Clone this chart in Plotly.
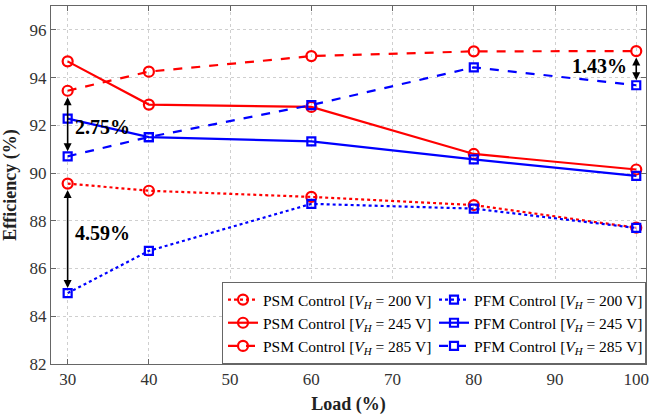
import plotly.graph_objects as go

# Converter efficiency vs. load for PSM and PFM control at three input voltages
load = [30, 40, 60, 80, 100]

psm_200 = [89.56, 89.26, 89.00, 88.66, 87.71]
pfm_200 = [84.97, 86.74, 88.71, 88.51, 87.70]
psm_245 = [94.68, 92.87, 92.77, 90.80, 90.15]
pfm_245 = [92.28, 91.51, 91.33, 90.57, 89.88]
psm_285 = [93.45, 94.25, 94.90, 95.10, 95.11]
pfm_285 = [90.70, 91.51, 92.85, 94.43, 93.68]

x_ticks = [30, 40, 50, 60, 70, 80, 90, 100]
y_ticks = [82, 84, 86, 88, 90, 92, 94, 96]

SERIF = "Liberation Serif"
RED = "#ff0000"
BLUE = "#0000ff"

series = [
    ("PSM", "200", psm_200, RED, "dot", "circle-open"),
    ("PFM", "200", pfm_200, BLUE, "dot", "square-open"),
    ("PSM", "245", psm_245, RED, "solid", "circle-open"),
    ("PFM", "245", pfm_245, BLUE, "solid", "square-open"),
    ("PSM", "285", psm_285, RED, "dash", "circle-open"),
    ("PFM", "285", pfm_285, BLUE, "dash", "square-open"),
]

fig = go.Figure()
for mode, vh, vals, color, dash, symbol in series:
    fig.add_trace(go.Scatter(
        x=load, y=vals, mode="lines+markers",
        name=f"{mode} Control [<i>V</i><sub><i>H</i></sub> = {vh} V]",
        line=dict(color=color, width=2.2, dash=dash),
        marker=dict(symbol=symbol, size=10 if symbol.startswith("circle") else 8,
                    color=color, line=dict(width=2.2, color=color)),
    ))

# Efficiency gaps between PSM and PFM control
gaps = [
    (30, psm_200[0], pfm_200[0], 30.65, 87.5, "left"),
    (30, psm_285[0], pfm_285[0], 30.65, 91.92, "left"),
    (100, psm_285[-1], pfm_285[-1], 99.15, 94.5, "right"),
]
for x, top, bottom, tx, ty, anchor in gaps:
    fig.add_annotation(
        x=x, y=bottom, ax=x, ay=top, xref="x", yref="y", axref="x", ayref="y",
        text="", showarrow=True, arrowhead=2, arrowside="end+start",
        arrowsize=1, arrowwidth=1.6, arrowcolor="black",
        standoff=5, startstandoff=5,
    )
    fig.add_annotation(
        x=tx, y=ty, xref="x", yref="y", showarrow=False,
        text=f"<b>{top - bottom:.2f}%</b>", xanchor=anchor, yanchor="middle",
        font=dict(family=SERIF, size=20, color="black"),
    )

axis_common = dict(
    showline=True, linecolor="#666666", linewidth=1, mirror="allticks",
    ticks="inside", ticklen=5, tickcolor="#666666",
    showgrid=True, gridcolor="#cfcfcf", griddash="dot", gridwidth=1,
    zeroline=False,
    tickfont=dict(family=SERIF, size=17, color="#333333"),
)

fig.update_layout(
    width=652, height=415,
    margin=dict(l=51, r=3, t=6, b=51),
    plot_bgcolor="white", paper_bgcolor="white",
    font=dict(family=SERIF),
    xaxis=dict(range=[27.95, 101.2], tickvals=x_ticks,
               title=dict(text="<b>Load (%)</b>", standoff=8,
                          font=dict(family=SERIF, size=18, color="#222222")),
               **axis_common),
    yaxis=dict(range=[82, 97], tickvals=y_ticks,
               title=dict(text="<b>Efficiency (%)</b>", standoff=8,
                          font=dict(family=SERIF, size=18, color="#222222")),
               **axis_common),
    showlegend=True,
    legend=dict(
        orientation="h", x=1, y=0, xanchor="right", yanchor="bottom",
        entrywidth=166, entrywidthmode="pixels",
        bgcolor="white", bordercolor="#666666", borderwidth=1,
        font=dict(family=SERIF, size=15.5, color="black"),
        tracegroupgap=0,
    ),
)

fig.write_html("out.html")
